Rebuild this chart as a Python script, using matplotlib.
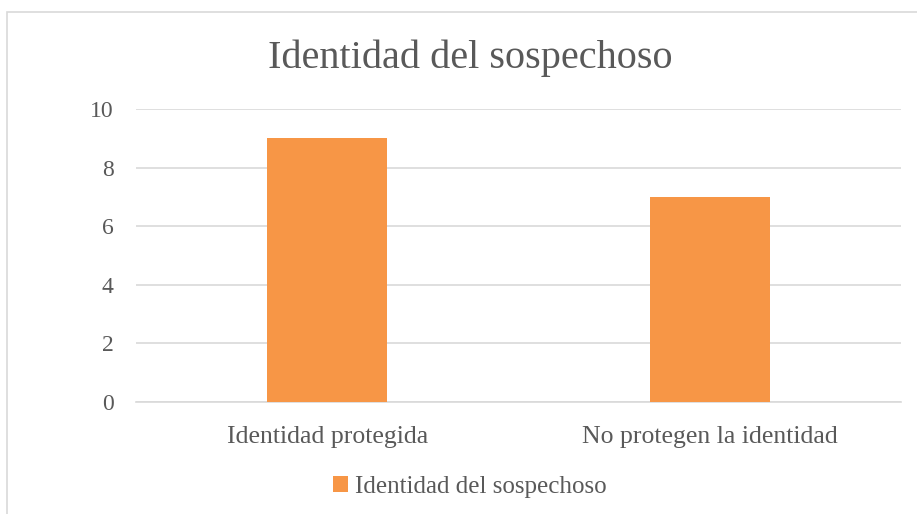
import matplotlib.pyplot as plt
from matplotlib.patches import Rectangle

categories = ['Identidad protegida', 'No protegen la identidad']
values = [9, 7]
series_name = 'Identidad del sospechoso'
y_ticks = [0, 2, 4, 6, 8, 10]

plt.rcParams['font.family'] = ['Liberation Serif', 'DejaVu Serif']
text_color = '#595959'
bar_color = '#F79646'

fig = plt.figure(figsize=(9.17, 5.14), dpi=100)
# chart border (light gray frame running off the right/bottom edges)
fig.patches.append(Rectangle((7 / 917, -0.1), 1.2, 1 - 12 / 514 + 0.1,
                             transform=fig.transFigure, fill=False,
                             edgecolor='#D9D9D9', linewidth=1.2))

ax = fig.add_axes([136 / 917, 1 - 402 / 514, (901 - 136) / 917, (402 - 109) / 514])
x = list(range(len(categories)))
ax.bar(x, values, width=0.314, color=bar_color, label=series_name, zorder=3)
ax.set_xlim(-0.5, len(categories) - 0.5)
ax.set_ylim(0, 10)
ax.set_yticks(y_ticks)
ax.set_xticks(x)
ax.set_xticklabels(categories)
ax.grid(axis='y', color='#D9D9D9', linewidth=1.2, zorder=0)
for s in ['top', 'right', 'left']:
    ax.spines[s].set_visible(False)
ax.spines['bottom'].set_color('#D9D9D9')
ax.spines['bottom'].set_linewidth(1.2)
ax.tick_params(axis='both', length=0, colors=text_color)
ax.tick_params(axis='y', pad=16, labelsize=17)
ax.tick_params(axis='x', pad=17, labelsize=18.5)

fig.text(470 / 917, 1 - 58 / 514, 'Identidad del sospechoso', ha='center', va='center',
         fontsize=29, color=text_color)
fig.legend(loc='center', bbox_to_anchor=(470 / 917, 1 - 487 / 514), frameon=False,
           fontsize=18, labelcolor=text_color, handlelength=0.6, handleheight=0.6,
           handletextpad=0.3)

fig.savefig('out.png', dpi=100)
